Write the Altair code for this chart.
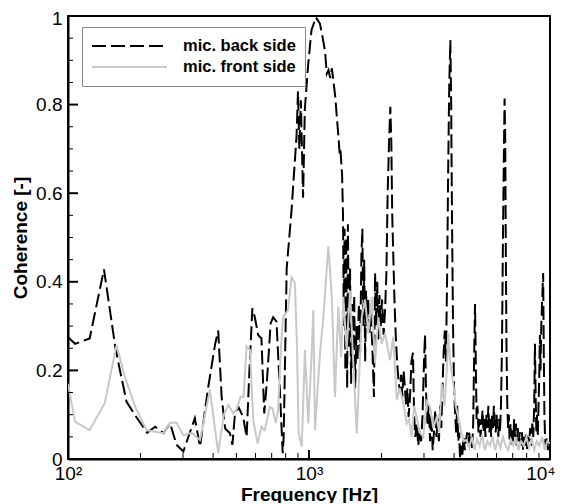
import altair as alt
import pandas as pd

# ---- data ----
back_f = [100, 107, 123, 141, 157, 162, 175, 193, 213, 230, 249, 265, 282, 301, 336, 353, 382, 408, 420,
          434, 449, 470, 481, 493, 509, 533, 551, 566, 582, 596, 615, 635, 652, 668, 693, 710, 733, 757,
          778, 785, 797, 808, 846, 888, 900, 912, 925, 945, 961, 992, 1024, 1068, 1110, 1140, 1166, 1185,
          1204, 1225, 1244, 1284, 1328, 1340, 1350, 1372, 1384, 1395, 1405, 1415, 1425, 1440, 1450, 1465,
          1480, 1495, 1510, 1525, 1540, 1555, 1575, 1590, 1610, 1630, 1650, 1665, 1680, 1695, 1710, 1725,
          1740, 1760, 1780, 1800, 1830, 1860, 1880, 1900, 1920, 1940, 1960, 1985, 2010, 2040, 2070, 2095,
          2120, 2150, 2175, 2195, 2215, 2240, 2265, 2290, 2320, 2350, 2385, 2410, 2440, 2470, 2500, 2530,
          2560, 2590, 2625, 2660, 2700, 2730, 2760, 2800, 2840, 2880, 2920, 2960, 3000, 3030, 3060, 3100,
          3140, 3180, 3220, 3260, 3300, 3340, 3380, 3420, 3460, 3500, 3540, 3580, 3620, 3660, 3700, 3740,
          3780, 3820, 3860, 3890, 3920, 3960, 4000, 4040, 4080, 4120, 4160, 4200, 4233, 4280, 4330, 4380,
          4430, 4480, 4530, 4580, 4620, 4660, 4700, 4750, 4800, 4850, 4886, 4920, 4960, 5000, 5050, 5100,
          5150, 5200, 5250, 5300, 5350, 5400, 5450, 5500, 5550, 5600, 5650, 5700, 5750, 5800, 5850, 5900,
          5950, 6000, 6050, 6100, 6150, 6200, 6260, 6320, 6380, 6440, 6480, 6520, 6560, 6600, 6650, 6700,
          6750, 6800, 6860, 6920, 6980, 7040, 7100, 7160, 7220, 7280, 7350, 7420, 7500, 7580, 7650, 7720,
          7800, 7880, 7960, 8040, 8120, 8200, 8280, 8360, 8440, 8520, 8600, 8660, 8720, 8780, 8840, 8900,
          8960, 9020, 9080, 9130, 9200, 9280, 9367, 9420, 9480, 9540, 9600, 9700, 9800, 9900, 10000]
back_v = [0.275, 0.26, 0.272, 0.428, 0.254, 0.216, 0.129, 0.093, 0.059, 0.073, 0.058, 0.081, 0.032, 0.017,
          0.092, 0.028, 0.163, 0.26, 0.29,
          0.14, 0.069, 0.058, 0.032, 0.103, 0.118, 0.095, 0.05, 0.2, 0.34, 0.32, 0.28, 0.272, 0.103, 0.17,
          0.306, 0.32, 0.31, 0.156,
          0.013, 0.05, 0.25, 0.43, 0.56, 0.73, 0.83, 0.70, 0.81, 0.59, 0.79, 0.89, 0.968, 0.997, 0.983, 0.95,
          0.92, 0.87,
          0.878, 0.86, 0.882, 0.82, 0.72, 0.69, 0.70, 0.64, 0.55, 0.30, 0.52, 0.20, 0.50, 0.16, 0.53, 0.25,
          0.43, 0.17, 0.35, 0.20, 0.37, 0.16, 0.30, 0.22, 0.35, 0.24, 0.46, 0.52, 0.30, 0.45, 0.22, 0.38,
          0.30, 0.36, 0.28, 0.33, 0.26, 0.14, 0.42, 0.30, 0.40, 0.27, 0.37, 0.30, 0.36, 0.28, 0.34, 0.42,
          0.60, 0.72, 0.795, 0.72, 0.55, 0.45, 0.35, 0.28, 0.22, 0.18, 0.15, 0.19, 0.14, 0.20, 0.16, 0.12,
          0.16, 0.095, 0.14, 0.22, 0.24, 0.10, 0.05, 0.08, 0.03, 0.065, 0.04, 0.10, 0.22, 0.28, 0.15, 0.08,
          0.12, 0.04, 0.10, 0.02, 0.06, 0.11, 0.05, 0.09, 0.04, 0.12, 0.07, 0.16, 0.24, 0.29, 0.22, 0.40,
          0.65, 0.85, 0.946, 0.80, 0.55, 0.30, 0.16, 0.10, 0.06, 0.12, 0.04, 0.06, 0.0, 0.03, 0.01, 0.05,
          0.02, 0.04, 0.06, 0.03, 0.06, 0.03, 0.05, 0.02, 0.08, 0.25, 0.35, 0.22, 0.09, 0.12, 0.06, 0.09,
          0.05, 0.08, 0.11, 0.06, 0.09, 0.05, 0.10, 0.07, 0.12, 0.06, 0.09, 0.05, 0.10, 0.07, 0.12, 0.08,
          0.06, 0.10, 0.07, 0.05, 0.09, 0.06, 0.12, 0.25, 0.50, 0.70, 0.814, 0.72, 0.45, 0.25, 0.12, 0.07,
          0.10, 0.04, 0.08, 0.03, 0.07, 0.04, 0.09, 0.05, 0.08, 0.03, 0.07, 0.04, 0.06, 0.03, 0.06, 0.02,
          0.05, 0.03, 0.06, 0.02, 0.05, 0.04, 0.07, 0.03, 0.08, 0.05, 0.12, 0.26, 0.14, 0.06, 0.10, 0.05,
          0.12, 0.18, 0.28, 0.20, 0.30, 0.36, 0.42, 0.25, 0.10, 0.05, 0.03, 0.05, 0.02, 0.04, 0.03]

front_f = [100, 107, 123, 142, 159, 172, 190, 212, 249, 265, 282, 301, 326, 353, 388, 420, 443, 463, 485,
           503, 520, 535, 551, 569, 587, 612, 635, 655, 688, 705, 728, 744, 765, 780, 818, 846, 874, 892,
           905, 933, 962, 993, 1026, 1042, 1059, 1111, 1147, 1203, 1243, 1282, 1323, 1360, 1388, 1433, 1480,
           1527, 1578, 1655, 1708, 1763, 1821, 1879, 1940, 2003, 2067, 2168, 2238, 2312, 2380, 2462, 2543,
           2600, 2668, 2730, 2798, 2880, 2981, 3080, 3178, 3280, 3388, 3470, 3553, 3650, 3730, 3784, 3850,
           3970, 4060, 4165, 4280, 4400, 4513, 4620, 4740, 4860, 4980, 5100, 5230, 5360, 5500, 5640, 5780,
           5920, 6070, 6220, 6380, 6540, 6700, 6870, 7040, 7220, 7400, 7590, 7780, 7980, 8180, 8390, 8600,
           8820, 9040, 9270, 9500, 9750, 10000]
front_v = [0.17, 0.084, 0.065, 0.126, 0.257, 0.186, 0.118, 0.065, 0.058, 0.082, 0.082, 0.054, 0.059, 0.043,
           0.156, 0.013, 0.10, 0.122, 0.103,
           0.114, 0.141, 0.14, 0.254, 0.246, 0.088, 0.035, 0.073, 0.065, 0.118, 0.114, 0.081, 0.11, 0.25,
           0.32, 0.336, 0.41, 0.397, 0.25,
           0.06, 0.028, 0.246, 0.08, 0.24, 0.336, 0.065, 0.24, 0.32, 0.48, 0.366, 0.14, 0.344, 0.23, 0.366,
           0.246, 0.38,
           0.216, 0.058, 0.32, 0.36, 0.284, 0.366, 0.216, 0.32, 0.26, 0.284, 0.223, 0.276, 0.133, 0.16,
           0.126, 0.08,
           0.09, 0.05, 0.12, 0.095, 0.06, 0.05, 0.13, 0.118, 0.07, 0.095, 0.06, 0.17, 0.12, 0.20, 0.284, 0.22,
           0.17, 0.12, 0.095, 0.06, 0.04, 0.043, 0.025, 0.05, 0.02, 0.045, 0.03, 0.055, 0.02, 0.04, 0.03, 0.05,
           0.02, 0.045, 0.025, 0.05, 0.03, 0.02, 0.045, 0.03, 0.05, 0.02, 0.04, 0.03, 0.05, 0.025, 0.045, 0.02,
           0.04, 0.03, 0.05, 0.02, 0.04, 0.035]

x_major = [100, 1000, 10000]
x_minor = [200, 300, 400, 500, 600, 700, 800, 900, 2000, 3000, 4000, 5000, 6000, 7000, 8000, 9000]
y_major = [0, 0.2, 0.4, 0.6, 0.8, 1.0]
y_minor = [0.05, 0.1, 0.15, 0.25, 0.3, 0.35, 0.45, 0.5, 0.55, 0.65, 0.7, 0.75, 0.85, 0.9, 0.95]

BACK = "mic. back side"
FRONT = "mic. front side"

df = pd.concat([
    pd.DataFrame({"f": back_f, "v": back_v, "s": BACK}),
    pd.DataFrame({"f": front_f, "v": front_v, "s": FRONT}),
])

W, H = 482, 443
FONT = "Liberation Sans"

xscale = alt.Scale(type="log", domain=[100, 10000], nice=False)
yscale = alt.Scale(domain=[0, 1], nice=False, zero=False)

legend = alt.Legend(title=None, orient="none", legendX=14, legendY=11,
                    symbolType="stroke", symbolSize=5625, symbolStrokeWidth=2,
                    clipHeight=20,
                    labelFont=FONT, labelFontSize=16.5, labelFontWeight="bold",
                    labelColor="black", labelOffset=15, padding=9, rowPadding=1,
                    strokeColor="#888888", fillColor="white")

lines = alt.Chart(df).mark_line(strokeWidth=2, clip=True).encode(
    x=alt.X("f:Q", scale=xscale, title="Frequency [Hz]",
            axis=alt.Axis(values=x_major, tickSize=0, grid=False, labelPadding=5, labelFlush=False,
                          labelExpr="datum.value == 100 ? '10²' : datum.value == 1000 ? '10³' : '10⁴'",
                          labelAlign=alt.condition("datum.value == 10000", alt.value("right"), alt.value("center")),
                          labelOffset=alt.condition("datum.value == 10000", alt.value(5), alt.value(0)),
                          titlePadding=2)),
    y=alt.Y("v:Q", scale=yscale, title="Coherence [-]",
            axis=alt.Axis(values=y_major, format=".1~f", tickSize=0, grid=False, labelPadding=6,
                          labelFlush=False,
                          labelOffset=alt.condition("datum.value == 1", alt.value(2), alt.value(0)),
                          titleX=-48, titleY=H / 2, titleBaseline="middle")),
    color=alt.Color("s:N", scale=alt.Scale(domain=[BACK, FRONT], range=["#000000", "#c8c8c8"]),
                    legend=legend),
    strokeDash=alt.StrokeDash("s:N", scale=alt.Scale(domain=[BACK, FRONT], range=[[14, 5], [1, 0]]),
                              legend=legend),
)

xmaj = alt.Chart(pd.DataFrame({"f": x_major[1:2]})).mark_rule(color="black", strokeWidth=2).encode(
    x=alt.X("f:Q", scale=xscale), y=alt.value(H), y2=alt.value(H - 9))
xmin = alt.Chart(pd.DataFrame({"f": x_minor})).mark_rule(color="black", strokeWidth=1).encode(
    x=alt.X("f:Q", scale=xscale), y=alt.value(H), y2=alt.value(H - 6))
ymaj = alt.Chart(pd.DataFrame({"v": y_major[1:5]})).mark_rule(color="black", strokeWidth=2).encode(
    y=alt.Y("v:Q", scale=yscale), x=alt.value(0), x2=alt.value(10))
ymin = alt.Chart(pd.DataFrame({"v": y_minor})).mark_rule(color="black", strokeWidth=1).encode(
    y=alt.Y("v:Q", scale=yscale), x=alt.value(0), x2=alt.value(5))

chart = alt.layer(lines, xmaj, xmin, ymaj, ymin).properties(
    width=W, height=H,
    autosize=alt.AutoSizeParams(type="none"),
    padding={"left": 60, "top": 8, "right": 5, "bottom": 44},
).configure_view(
    stroke="black", strokeWidth=2
).configure_axis(
    domainColor="black", domainWidth=2,
    labelFont=FONT, labelFontSize=19, labelColor="black",
    titleFont=FONT, titleFontSize=19, titleFontWeight="bold", titleColor="black",
)

chart.save("out.html", embed_options={"renderer": "svg", "actions": False})
